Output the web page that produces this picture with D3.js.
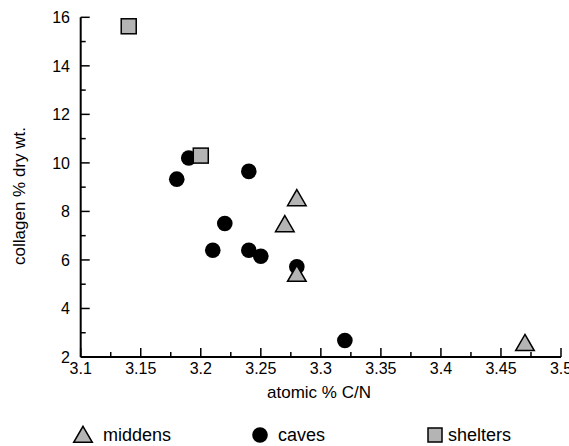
<!DOCTYPE html>
<html><head><meta charset="utf-8">
<script src="https://cdn.jsdelivr.net/npm/d3@7"></script>
<style>body{margin:0;background:#fff}svg{display:block}text{font-family:"Liberation Sans",Arial,sans-serif;fill:#000}</style>
</head><body>
<script>
const caves = [[3.18,9.33],[3.19,10.2],[3.24,9.65],[3.22,7.5],[3.21,6.4],[3.24,6.4],[3.25,6.15],[3.28,5.72],[3.32,2.68]];
const middens = [[3.28,8.52],[3.27,7.45],[3.28,5.4],[3.47,2.55]];
const shelters = [[3.14,15.63],[3.20,10.3]];
const xTicks = [3.1,3.15,3.2,3.25,3.3,3.35,3.4,3.45,3.5];
const yTicks = [2,4,6,8,10,12,14,16];
const legendLabels = ["middens","caves","shelters"];

const W=569,H=446;
const svg=d3.select("body").append("svg").attr("width",W).attr("height",H);
const x=d3.scaleLinear().domain([3.1,3.5]).range([80.7,561]);
const y=d3.scaleLinear().domain([2,16]).range([357,17.3]);
const fillGray="#b4b4b4";

// axes
const g=svg.append("g");
g.append("line").attr("x1",x(3.1)).attr("x2",x(3.5)).attr("y1",y(2)).attr("y2",y(2)).attr("stroke","#000").attr("stroke-width",2);
g.append("line").attr("x1",x(3.1)).attr("x2",x(3.1)).attr("y1",y(2)).attr("y2",y(16)).attr("stroke","#000").attr("stroke-width",2);
const xMinor=d3.range(3.125,3.5,0.05);
g.selectAll(".xt").data(xTicks).enter().append("line").attr("x1",d=>x(d)).attr("x2",d=>x(d)).attr("y1",y(2)).attr("y2",y(2)-9).attr("stroke","#000").attr("stroke-width",1.5);
g.selectAll(".xm").data(xMinor).enter().append("line").attr("x1",d=>x(d)).attr("x2",d=>x(d)).attr("y1",y(2)).attr("y2",y(2)-5).attr("stroke","#000").attr("stroke-width",1.5);
const yMinor=d3.range(3,16,2);
g.selectAll(".yt").data(yTicks).enter().append("line").attr("x1",x(3.1)).attr("x2",x(3.1)+9).attr("y1",d=>y(d)).attr("y2",d=>y(d)).attr("stroke","#000").attr("stroke-width",1.5);
g.selectAll(".ym").data(yMinor).enter().append("line").attr("x1",x(3.1)).attr("x2",x(3.1)+5).attr("y1",d=>y(d)).attr("y2",d=>y(d)).attr("stroke","#000").attr("stroke-width",1.5);
g.selectAll(".xl").data(xTicks).enter().append("text").attr("x",d=>x(d)).attr("y",374).attr("text-anchor","middle").attr("font-size",16).text(d=>d3.format("")(d));
g.selectAll(".yl").data(yTicks).enter().append("text").attr("x",70).attr("y",d=>y(d)+6).attr("text-anchor","end").attr("font-size",16).text(d=>d);
svg.append("text").attr("x",319).attr("y",398).attr("text-anchor","middle").attr("font-size",17).text("atomic % C/N");
svg.append("text").attr("transform","translate(25,196) rotate(-90)").attr("text-anchor","middle").attr("font-size",17).text("collagen % dry wt.");

const tri=d3.symbol().type(d3.symbolTriangle).size(150);
// marks
svg.selectAll(".cave").data(caves).enter().append("circle").attr("cx",d=>x(d[0])).attr("cy",d=>y(d[1])).attr("r",7.8).attr("fill","#000");
svg.selectAll(".mid").data(middens).enter().append("path").attr("d",tri).attr("transform",d=>`translate(${x(d[0])},${y(d[1])+1.5})`).attr("fill",fillGray).attr("stroke","#000").attr("stroke-width",1.5);
svg.selectAll(".sh").data(shelters).enter().append("rect").attr("x",d=>x(d[0])-7.5).attr("y",d=>y(d[1])-7.5).attr("width",15).attr("height",15).attr("fill",fillGray).attr("stroke","#000").attr("stroke-width",1.5);

// legend
const lg=svg.append("g");
lg.append("path").attr("d",tri).attr("transform","translate(83,437)").attr("fill",fillGray).attr("stroke","#000").attr("stroke-width",1.5);
lg.append("circle").attr("cx",260).attr("cy",435).attr("r",7.8).attr("fill","#000");
lg.append("rect").attr("x",428).attr("y",428).attr("width",14).attr("height",14).attr("fill",fillGray).attr("stroke","#000").attr("stroke-width",1.5);
const lx=[103,278,448];
lg.selectAll("text").data(legendLabels).enter().append("text").attr("x",(d,i)=>lx[i]).attr("y",441).attr("font-size",18).text(d=>d);
</script>
</body></html>
